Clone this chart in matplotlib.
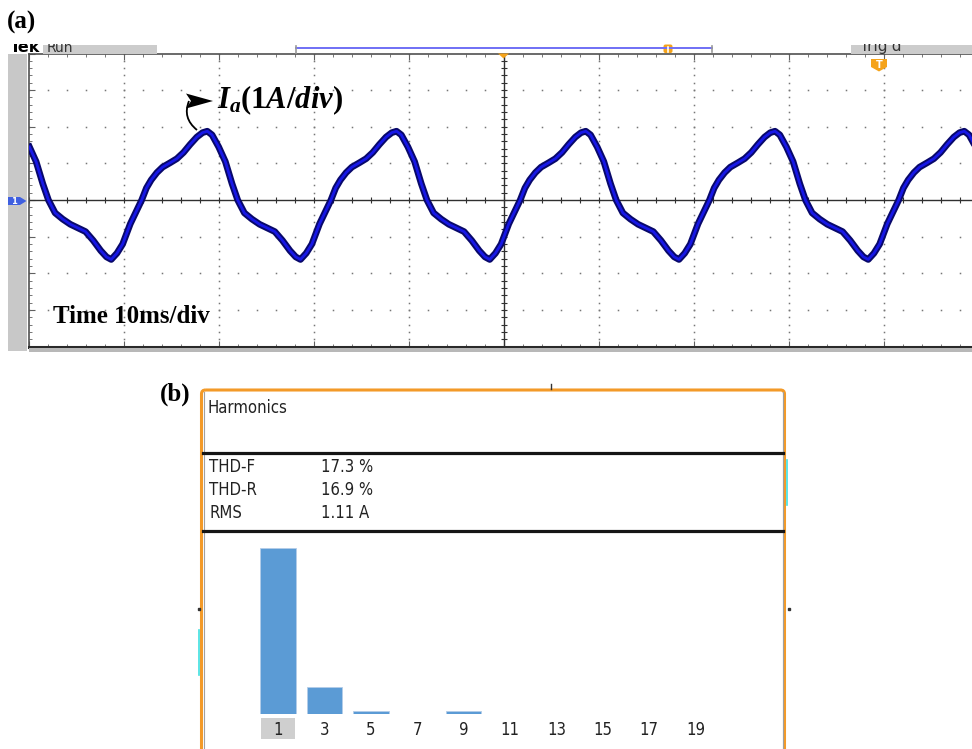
import numpy as np
import matplotlib
matplotlib.use('Agg')
import matplotlib.pyplot as plt
from matplotlib import font_manager as fm
from matplotlib.patches import Rectangle, Polygon, FancyBboxPatch, PathPatch
from matplotlib.path import Path
import matplotlib.transforms as mtransforms

W, H = 972, 749

# ---- (a) scope trace: one period (ms from rising zero, A)
PERIOD_MS = [0.0, 0.5, 1.0, 1.6, 2.2, 3.0, 3.7, 4.4, 5.1, 5.8, 6.4, 6.9, 7.4, 8.1,
             8.8, 9.5, 10.1, 10.8, 11.6, 12.4, 13.2, 14.0, 14.8, 15.6, 16.2, 16.7,
             17.3, 17.9, 18.7, 19.9]
PERIOD_A = [0.0, 0.33, 0.55, 0.75, 0.90, 1.02, 1.13, 1.30, 1.52, 1.72, 1.84, 1.88,
            1.78, 1.45, 1.05, 0.45, 0.0, -0.35, -0.52, -0.66, -0.76, -0.86, -1.10,
            -1.38, -1.55, -1.62, -1.45, -1.20, -0.65, 0.0]
# rising zero crossings seen on screen (ms)
ZERO_CROSS_MS = [-8.0, 11.9, 31.8, 51.7, 71.6, 91.5]

# ---- (b) harmonics
HARM_ORDER = [1, 3, 5, 7, 9, 11, 13, 15, 17, 19]
HARM_PCT = [100, 16.5, 1.6, 0, 1.6, 0, 0, 0, 0, 0]
ROW_LABELS = ['THD-F', 'THD-R', 'RMS']
ROW_VALUES = ['17.3 %', '16.9 %', '1.11 A']

plt.rcParams['mathtext.fontset'] = 'custom'
plt.rcParams['mathtext.rm'] = 'Liberation Serif:bold'
plt.rcParams['mathtext.it'] = 'Liberation Serif:italic:bold'
plt.rcParams['mathtext.bf'] = 'Liberation Serif:bold'

names = {f.name for f in fm.fontManager.ttflist}
if 'Liberation Sans Narrow' in names:
    BOXF = dict(family='Liberation Sans Narrow')
    BS = 13
else:
    BOXF = dict(family='DejaVu Sans', fontstretch='condensed')
    BS = 12
SERIF = 'Liberation Serif'


def box(l, t, r, b):
    return [l / W, 1 - b / H, (r - l) / W, (b - t) / H]


fig = plt.figure(figsize=(W / 100, H / 100), dpi=100)

# ----------------------------------------------------------------------
# (a) oscilloscope
# ----------------------------------------------------------------------
ax = fig.add_axes(box(28.5, 53.5, 979.5, 346.7))
ax.set_xlim(0, 100)
ax.set_ylim(-4, 4)

# graticule dots
yy = np.arange(-4, 4.001, 0.2)
xx = np.arange(0, 100.001, 2)
for t in range(10, 100, 10):
    if t != 50:
        ax.plot([t] * len(yy), yy, ls='none', marker='s', ms=1.1, mew=0, color='#777777')
for a in (-3, -2, -1, 1, 2, 3):
    ax.plot(xx, [a] * len(xx), ls='none', marker='s', ms=1.1, mew=0, color='#777777')
ax.axhline(0, color='#303030', lw=1.0)
ax.axvline(50, color='#303030', lw=1.0)
ax.plot(xx, [0] * len(xx), ls='none', marker='|', ms=4, mew=0.8, color='#303030')
ax.plot([50] * len(yy), yy, ls='none', marker='_', ms=5, mew=0.8, color='#303030')

ax.set_xticks(np.arange(0, 101, 10))
ax.set_xticks(np.arange(0, 101, 2), minor=True)
ax.set_yticks(np.arange(-4, 4.01, 1))
ax.set_yticks(np.arange(-4, 4.01, 0.2), minor=True)
ax.tick_params(which='both', direction='in', top=True, right=True,
               labelbottom=False, labelleft=False, color='#606060')
ax.tick_params(which='major', length=4, width=0.8)
ax.tick_params(which='minor', length=2, width=0.6)
for s in ax.spines.values():
    s.set_color('#505050')
    s.set_linewidth(1.2)
ax.spines['bottom'].set_linewidth(2.2)
ax.spines['bottom'].set_color('#2a2a2a')

# trace
tt, ii = [], []
for z in ZERO_CROSS_MS:
    for p, c in zip(PERIOD_MS, PERIOD_A):
        t = z + p
        if -0.5 <= t <= 100.5 and (not tt or t > tt[-1]):
            tt.append(t)
            ii.append(c)
ax.plot(tt, ii, color='#08086a', lw=4.8, solid_joinstyle='round', zorder=5)
ax.plot(tt, ii, color='#1717e6', lw=2.0, solid_joinstyle='round', zorder=6)

# ----------------------------------------------------------------------
# (b) harmonics bars
# ----------------------------------------------------------------------
bx = fig.add_axes(box(250.2, 540, 723.4, 714))
pos = np.arange(len(HARM_ORDER))
bx.bar(pos, HARM_PCT, width=0.77, color='#5b9bd5', edgecolor='#b4cde8', linewidth=0.6)
bx.set_xlim(-0.6, 9.6)
bx.set_ylim(0, 104.8)
bx.set_xticks(pos)
bx.set_xticklabels([str(h) for h in HARM_ORDER], fontsize=BS, color='#222222', **BOXF)
bx.tick_params(axis='x', length=0, pad=5)
bx.set_yticks([])
for s in bx.spines.values():
    s.set_visible(False)
bx.patch.set_alpha(0)
btr = mtransforms.blended_transform_factory(bx.transData, bx.transAxes)
bx.add_patch(Rectangle((-0.37, -0.144), 0.73, 0.121, transform=btr,
                       facecolor='#cfcfcf', edgecolor='none', clip_on=False, zorder=0))

# ----------------------------------------------------------------------
# overlay in pixel coordinates
# ----------------------------------------------------------------------
ov = fig.add_axes([0, 0, 1, 1])
ov.set_xlim(0, W)
ov.set_ylim(H, 0)
ov.axis('off')
ov.patch.set_alpha(0)

ov.text(7, 22, '(a)', family=SERIF, weight='bold', fontsize=18, va='center', ha='left')
ov.text(160, 394, '(b)', family=SERIF, weight='bold', fontsize=18, va='center', ha='left')

# scope frame decorations
ov.add_patch(Rectangle((8.3, 53.5), 18.4, 297, facecolor='#c8c8c8', edgecolor='none'))
ov.add_patch(Rectangle((28.5, 348), 944, 4, facecolor='#b8b8b8', edgecolor='none'))
ov.add_patch(Rectangle((43, 45), 114, 8.5, facecolor='#cccccc', edgecolor='none'))
ov.add_patch(Rectangle((851, 45), 121, 8.5, facecolor='#cccccc', edgecolor='none'))
clip = Rectangle((0, 44), W, 9.5, transform=ov.transData)
for x0, s, kw in [(10, 'Tek', dict(weight='bold', fontsize=11.5)),
                  (47, 'Run', dict(fontsize=10, color='#333333')),
                  (860, "Trig'd", dict(fontsize=11, color='#333333'))]:
    tx = ov.text(x0, 51.5, s, va='baseline', ha='left', family='DejaVu Sans', **kw)
    tx.set_clip_on(True)
    tx.set_clip_path(clip)

ov.plot([296, 712], [47.7, 47.7], color='#6f6ff5', lw=1.4)
ov.plot([296, 296], [46, 53], color='#999999', lw=1.2)
ov.plot([712, 712], [46, 52], color='#999999', lw=1.2)
ov.add_patch(FancyBboxPatch((663.5, 44.5), 9, 8.5, boxstyle='round,pad=0,rounding_size=2',
                            facecolor='#f5a31a', edgecolor='none'))
ov.plot([668, 668], [46.5, 52], color='white', lw=1.2)
ov.add_patch(Polygon([(498, 53.5), (509, 53.5), (503.5, 58.5)], facecolor='#f5a31a',
                     edgecolor='none'))
ov.add_patch(Polygon([(871, 59), (887, 59), (887, 67), (879, 71.5), (871, 67)],
                     facecolor='#f5a31a', edgecolor='none'))
ov.text(879, 64.5, 'T', color='white', fontsize=7, weight='bold', ha='center', va='center')
ov.add_patch(Polygon([(8, 197), (20, 197), (26.5, 201), (20, 205), (8, 205)],
                     facecolor='#3f5fe0', edgecolor='none'))
ov.text(14, 201, '1', color='white', fontsize=6, weight='bold', ha='center', va='center')

# trace label with hook arrow
hook = Path([(197, 130), (182, 118), (189, 101)], [Path.MOVETO, Path.CURVE3, Path.CURVE3])
ov.add_patch(PathPatch(hook, facecolor='none', edgecolor='black', lw=1.3))
ov.add_patch(Polygon([(186, 93.5), (213, 101), (186, 108.5), (191, 101)],
                     facecolor='black', edgecolor='none'))
ov.text(217, 100, r'$I_a$(1$A/div$)', family=SERIF, weight='bold', fontsize=22,
        va='center', ha='left')
ov.text(53, 323, 'Time 10ms/div', family=SERIF, weight='bold', fontsize=18,
        va='baseline', ha='left')

# harmonics panel frame
ov.add_patch(FancyBboxPatch((201.5, 390), 583, 380,
                            boxstyle='round,pad=0,rounding_size=4',
                            facecolor='none', edgecolor='#f39a28', lw=2.2))
ov.plot([203.5, 203.5], [392, 749], color='#a0a0a0', lw=0.8)
ov.plot([782.7, 782.7], [392, 749], color='#a0a0a0', lw=0.8)
ov.plot([203, 783], [452.5, 452.5], color='#151515', lw=2.3)
ov.plot([203, 783], [531, 531], color='#151515', lw=2.3)
ov.plot([551, 551], [384, 389], color='#333333', lw=1)
ov.plot([787, 787], [460, 505], color='#40e0e0', lw=1.2)
ov.plot([199, 199], [630, 675], color='#40e0e0', lw=1.2)
ov.plot([198.5, 789], [609, 609], ls='none', marker='s', ms=1.5, color='#333333')

ov.text(207, 408, 'Harmonics', fontsize=BS, color='#222222', va='center', ha='left', **BOXF)
for k, (lab, val) in enumerate(zip(ROW_LABELS, ROW_VALUES)):
    y = 467 + 23 * k
    ov.text(209, y, lab, fontsize=BS, color='#222222', va='center', ha='left', **BOXF)
    ov.text(321, y, val, fontsize=BS, color='#222222', va='center', ha='left', **BOXF)

fig.savefig('out.png', dpi=100)
